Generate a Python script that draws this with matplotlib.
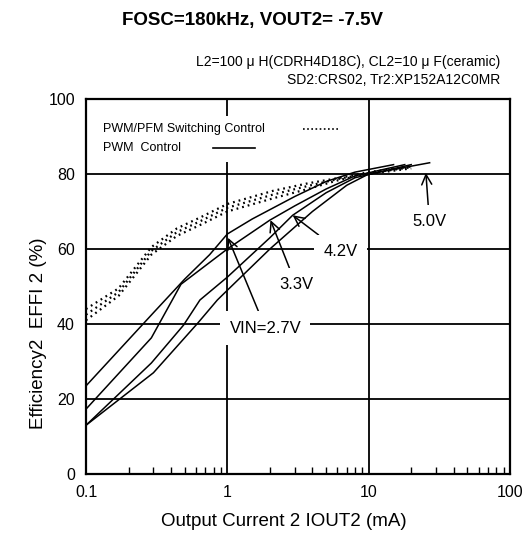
import numpy as np
import matplotlib.pyplot as plt
from matplotlib.ticker import LogLocator, FixedLocator, NullFormatter

plt.rcParams['font.family'] = ['Liberation Sans', 'DejaVu Sans']

# PWM control (solid), output current (mA) vs efficiency (%)
i_27 = [0.1, 0.3, 0.5, 0.75, 1.0, 1.5, 3, 5, 8, 15]
e_27 = [23.5, 43, 52, 58.5, 64, 68, 74, 78, 80.5, 82.5]
i_33 = [0.1, 0.29, 0.47, 1.0, 2.0, 3, 5, 8, 18]
e_33 = [17.3, 36.3, 50.6, 60, 67.7, 71.5, 76, 79.5, 82.5]
i_42 = [0.1, 0.29, 0.49, 0.64, 1.0, 2.0, 2.9, 5, 8, 20]
e_42 = [13, 29.6, 39.7, 46.4, 52.5, 63, 69, 75, 79, 82.5]
i_50 = [0.1, 0.3, 0.61, 0.85, 1.0, 2, 4, 7, 10, 27]
e_50 = [13, 27, 40, 46.4, 49, 60, 70, 77, 80, 83]

# PWM/PFM switching control (dotted)
i_pfm = [0.1, 0.17, 0.29, 0.44, 0.65, 1.0, 2.1, 3.7, 6.3, 10, 20]
e_pfm_a = [44, 49.5, 60.5, 65.5, 68.5, 72, 75.5, 77.5, 79, 80.5, 82]
e_pfm_b = [42.5, 48.5, 59.5, 64.5, 67.5, 71, 74.5, 76.8, 78.8, 80.2, 81.8]
e_pfm_c = [41, 47.5, 58.5, 63.5, 66.5, 70, 73.5, 76, 78.5, 80, 81.5]

fig = plt.figure(figsize=(5.23, 5.35), dpi=100)
ax = fig.add_axes([86/523, 1-474/535, 424/523, 375/535])

for e in (e_pfm_a, e_pfm_b, e_pfm_c):
    ax.plot(i_pfm, e, color='black', lw=1.6, ls=(0, (0.8, 1.8)))
for i, e in ((i_27, e_27), (i_33, e_33), (i_42, e_42), (i_50, e_50)):
    ax.plot(i, e, color='black', lw=1.1)

ax.set_xscale('log')
ax.set_xlim(0.1, 100)
ax.set_ylim(0, 100)
ax.xaxis.set_major_locator(FixedLocator([0.1, 1, 10, 100]))
ax.set_xticklabels(['0.1', '1', '10', '100'])
ax.xaxis.set_minor_locator(LogLocator(base=10, subs=np.arange(2, 10)))
ax.xaxis.set_minor_formatter(NullFormatter())
ax.set_yticks([0, 20, 40, 60, 80, 100])
ax.tick_params(which='both', direction='in', labelsize=11.5, top=False, right=False)
ax.tick_params(which='major', length=0, pad=8)
ax.tick_params(which='minor', length=5, width=1)
ax.grid(True, which='major', color='black', lw=1.3)
for s in ax.spines.values():
    s.set_linewidth(1.6)

ax.set_xlabel('Output Current 2 IOUT2 (mA)', fontsize=13.5)
ax.set_ylabel('Efficiency2  EFFI 2 (%)', fontsize=13.5)
ax.xaxis.set_label_coords(0.467, -0.105)
ax.yaxis.set_label_coords(-0.092, 0.376)

# legend drawn by hand on a white patch
ax.add_patch(plt.Rectangle((0.004, 0.832), 0.62, 0.123, transform=ax.transAxes,
                           facecolor='white', edgecolor='none', zorder=2.5))
ax.text(0.04, 0.92, 'PWM/PFM Switching Control', transform=ax.transAxes,
        fontsize=9, va='center', zorder=3)
ax.plot([0.512, 0.60], [0.92, 0.92], transform=ax.transAxes, color='black',
        lw=1.2, ls=(0, (1, 1.5)), zorder=3)
ax.text(0.04, 0.87, 'PWM  Control', transform=ax.transAxes,
        fontsize=9, va='center', zorder=3)
ax.plot([0.299, 0.398], [0.87, 0.87], transform=ax.transAxes, color='black',
        lw=1.2, zorder=3)

box = dict(boxstyle='square,pad=0.55', facecolor='white', edgecolor='none')
arrow = dict(arrowstyle='->', color='black', lw=1.1, mutation_scale=18,
             shrinkA=0, shrinkB=0)
ax.annotate('5.0V', xy=(25.4, 80.3), xytext=(26.9, 67.3), fontsize=12,
            ha='center', va='center', bbox=box, arrowprops=arrow, zorder=4)
ax.annotate('4.2V', xy=(2.9, 69), xytext=(6.32, 59.3), fontsize=12,
            ha='center', va='center', bbox=box, arrowprops=arrow, zorder=4)
ax.annotate('3.3V', xy=(2.02, 67.7), xytext=(3.06, 50.5), fontsize=12,
            ha='center', va='center', bbox=box, arrowprops=arrow, zorder=4)
ax.annotate('VIN=2.7V', xy=(1.01, 63), xytext=(1.86, 38.9), fontsize=12,
            ha='center', va='center', bbox=box, arrowprops=arrow, zorder=4)

fig.text(253/523, 1-20/535, 'FOSC=180kHz, VOUT2= -7.5V', fontsize=13.5,
         fontweight='bold', ha='center', va='center')
fig.text(500/523, 1-62/535, 'L2=100 μ H(CDRH4D18C), CL2=10 μ F(ceramic)',
         fontsize=10, ha='right', va='center')
fig.text(500/523, 1-80/535, 'SD2:CRS02, Tr2:XP152A12C0MR',
         fontsize=10, ha='right', va='center')

fig.savefig('out.png', dpi=100)
